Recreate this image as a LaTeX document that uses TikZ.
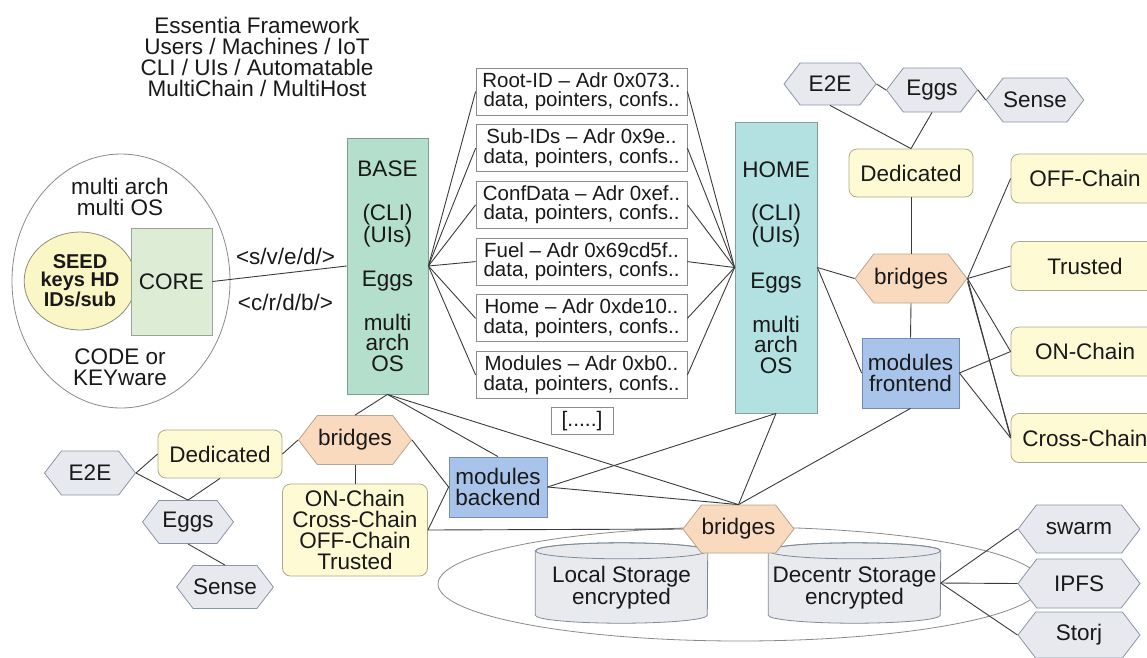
\documentclass[tikz,border=0pt]{standalone}
\usepackage{fontspec}
\setmainfont{Liberation Sans}
\usetikzlibrary{shapes.geometric,shapes.symbols}
\definecolor{baseF}{HTML}{B5DFCD}\definecolor{baseB}{HTML}{7E9E92}
\definecolor{homeF}{HTML}{B3E1E2}\definecolor{homeB}{HTML}{7E9EA0}
\definecolor{coreF}{HTML}{DDEDD5}\definecolor{coreB}{HTML}{93A88C}
\definecolor{seedF}{HTML}{FBF6C6}\definecolor{seedB}{HTML}{8C8C80}
\definecolor{yF}{HTML}{FEFAD3}\definecolor{yB}{HTML}{A9A98E}
\definecolor{hexF}{HTML}{E7E9EE}\definecolor{hexB}{HTML}{8995A8}
\definecolor{peachF}{HTML}{FADABF}\definecolor{peachB}{HTML}{B7A58E}
\definecolor{blueF}{HTML}{A9C4EA}\definecolor{blueB}{HTML}{6F8DB8}
\definecolor{cylF}{HTML}{E8EAEE}\definecolor{cylB}{HTML}{7F8B9B}
\definecolor{dataB}{HTML}{8C8C8C}\definecolor{lineC}{HTML}{3A3A3A}
\definecolor{circB}{HTML}{8A8A8A}
\begin{document}
\begin{tikzpicture}[x=1pt,y=-1pt,
  every node/.style={font=\fontsize{22.5}{20.5}\selectfont, align=center, inner sep=0pt, text=black!90},
  conn/.style={draw=lineC, line width=0.9pt},
  tealbox/.style={draw=baseB, fill=baseF, line width=0.8pt, minimum width=81pt},
  homebox/.style={draw=homeB, fill=homeF, line width=0.8pt, minimum width=82pt},
  databox/.style={draw=dataB, fill=white, line width=0.8pt, minimum width=211pt, minimum height=47pt, font=\fontsize{20.5}{19.5}\selectfont},
  hexnode/.style={shape=signal, signal to=west and east, signal pointer angle=105, draw=hexB, fill=hexF, line width=0.8pt, minimum height=44pt, minimum width=91pt},
  bridgenode/.style={shape=signal, signal to=west and east, signal pointer angle=105, draw=peachB, fill=peachF, line width=0.8pt, minimum height=49pt, minimum width=112pt},
  ybox/.style={draw=yB, fill=yF, line width=0.8pt, rounded corners=8pt, minimum width=124pt, minimum height=48pt},
  chainbox/.style={ybox, minimum width=148pt, minimum height=49pt},
  bluebox/.style={draw=blueB, fill=blueF, line width=0.8pt, minimum width=97pt},
  cylnode/.style={minimum width=172pt, minimum height=64pt}
]
\useasboundingbox (0,0) rectangle (1147,657);

% title
\node[font=\fontsize{22.5}{21}\selectfont] (title) at (257,57) {Essentia Framework\\Users / Machines / IoT\\CLI / UIs / Automatable\\MultiChain / MultiHost};

% left cluster
\node[draw=circB, fill=white, ellipse, line width=0.8pt, minimum width=218pt, minimum height=254pt] (outer) at (121,281) {};
\node (mao) at (120,197) {multi arch\\multi OS};
\node[draw=seedB, fill=seedF, ellipse, line width=0.8pt, minimum width=101pt, minimum height=98pt, font=\fontsize{20}{18}\selectfont\bfseries] (seed) at (80,281) {SEED\\keys HD\\IDs/sub};
\node[draw=coreB, fill=coreF, line width=0.8pt, minimum width=81pt, minimum height=107pt] (core) at (171.5,281.5) {CORE};
\node (code) at (120,367) {CODE or\\KEYware};

% BASE and HOME
\node[tealbox, minimum height=256pt] (base) at (387.5,266) {BASE\\[24pt](CLI)\\(UIs)\\[23pt]Eggs\\[22pt]multi\\arch\\OS};
\node[homebox, minimum height=291pt] (home) at (776,267.5) {HOME\\[23pt](CLI)\\(UIs)\\[25pt]Eggs\\[22pt]multi\\arch\\OS};

% data boxes
\node[databox] (d1) at (581.5,91.5) {Root-ID – Adr 0x073..\\data, pointers, confs..};
\node[databox] (d2) at (581.5,148.2) {Sub-IDs – Adr 0x9e..\\data, pointers, confs..};
\node[databox] (d3) at (581.5,204.9) {ConfData – Adr 0xef..\\data, pointers, confs..};
\node[databox] (d4) at (581.5,261.6) {Fuel – Adr 0x69cd5f..\\data, pointers, confs..};
\node[databox] (d5) at (581.5,318.3) {Home – Adr 0xde10..\\data, pointers, confs..};
\node[databox] (d6) at (581.5,375) {Modules – Adr 0xb0..\\data, pointers, confs..};
\node[draw=dataB, fill=white, line width=0.8pt, minimum width=62pt, minimum height=27pt, font=\fontsize{21}{20}\selectfont] (more) at (582,421) {[.....]};

% top right
\node[hexnode, minimum width=92pt, minimum height=42pt] (te2e) at (830,84) {E2E};
\node[hexnode] (teggs) at (932,90) {Eggs};
\node[hexnode, minimum width=90pt] (tsense) at (1035,100) {Sense};
\node[ybox] (tded) at (911,173) {Dedicated};
\node[bridgenode] (rbr) at (911,278.5) {bridges};
\node[bluebox, minimum height=70pt] (mf) at (910.5,373) {modules\\frontend};
\node[chainbox] (off) at (1085,178.5) {OFF-Chain};
\node[chainbox] (trusted) at (1085,266) {Trusted};
\node[chainbox] (on) at (1085,351.5) {ON-Chain};
\node[chainbox] (cross) at (1085,438) {Cross-Chain};

% bottom left
\node[hexnode] (be2e) at (90,473) {E2E};
\node[ybox] (bded) at (220,454) {Dedicated};
\node[bridgenode, minimum width=113pt] (lbr) at (355,440) {bridges};
\node[hexnode, minimum height=43pt] (beggs) at (188,522) {Eggs};
\node[hexnode, minimum height=43pt] (bsense) at (225,587) {Sense};
\node[ybox, minimum width=145pt, minimum height=92pt, font=\fontsize{22.5}{21}\selectfont] (chains) at (355,530) {ON-Chain\\Cross-Chain\\OFF-Chain\\Trusted};
\node[bluebox, minimum width=98pt, minimum height=60pt] (mb) at (498,487) {modules\\backend};

% storage
\node[draw=circB, fill=white, ellipse, line width=0.8pt, minimum width=604pt, minimum height=114pt] (store) at (740,584) {};
\node[cylnode] (loc) at (621.5,583) {};
\node[cylnode] (dec) at (854.5,583) {};
\foreach \c in {loc,dec}{
  \path[fill=cylF, draw=cylB, line width=0.8pt] (\c.north west) -- (\c.south west)
     arc[start angle=180, end angle=360, x radius=86pt, y radius=8pt]
     -- (\c.north east) arc[start angle=0, end angle=180, x radius=86pt, y radius=8pt] -- cycle;
  \draw[cylB, line width=0.8pt] (\c.north) ellipse[x radius=86pt, y radius=8pt];
}
\node (loct) at (621.5,588) {Local Storage\\encrypted};
\node (dect) at (854.5,588) {Decentr Storage\\encrypted};
\node[bridgenode, minimum width=111pt, minimum height=48pt] (bbr) at (738.5,529) {bridges};
\node[hexnode, minimum width=122pt, minimum height=48pt] (swarm) at (1079,529) {swarm};
\node[hexnode, minimum width=122pt, minimum height=49pt] (ipfs) at (1079,583.5) {IPFS};
\node[hexnode, minimum width=122pt, minimum height=46pt] (storj) at (1079,635) {Storj};

% connectors
\draw[conn] (core.east) -- (base.west)
  node[midway, xshift=6pt, yshift=17pt] (lab1) {<s/v/e/d/>}
  node[midway, xshift=6pt, yshift=-29pt] (lab2) {<c/r/d/b/>};
\foreach \d in {d1,d2,d3,d4,d5,d6}{
  \draw[conn] (base.east) -- (\d.west);
  \draw[conn] (\d.east) -- (home.west);
}
\draw[conn] (te2e.east) -- (teggs.west);
\draw[conn] (teggs.east) -- (tsense.west);
\draw[conn] (te2e.south) -- (tded.north);
\draw[conn] (teggs.south) -- (tded.north);
\draw[conn] (tded.south) -- (rbr.north);
\draw[conn] (rbr.south) -- (mf.north);
\draw[conn] (home.east) -- (rbr.west);
\draw[conn] (home.east) -- (mf.west);
\draw[conn] (rbr.east) -- (off.west);
\draw[conn] (rbr.east) -- (trusted.west);
\draw[conn] (rbr.east) -- (on.west);
\draw[conn] (rbr.east) -- (cross.west);
\draw[conn] ([yshift=-3pt]rbr.east) -- ([yshift=2pt]cross.west);
\draw[conn] (mf.east) -- (on.west);
\draw[conn] (mf.east) -- (cross.west);
\draw[conn] (home.south) -- (mb.east);
\draw[conn] (home.south) -- (bbr.north);
\draw[conn] (mf.south) -- (bbr.north);
\draw[conn] (base.south) -- (lbr.north);
\draw[conn] (base.south) -- (mb.north);
\draw[conn] (base.south) -- (bbr.north);
\draw[conn] (bded.east) -- (lbr.west);
\draw[conn] (lbr.south) -- (chains.north);
\draw[conn] (lbr.east) -- (mb.west);
\draw[conn] (chains.east) -- (mb.west);
\draw[conn] (chains.east) -- (bbr.west);
\draw[conn] (mb.east) -- (bbr.north);
\draw[conn] (be2e.east) -- (bded.west);
\draw[conn] (be2e.east) -- (beggs.north);
\draw[conn] (bded.south) -- (beggs.north);
\draw[conn] (beggs.south) -- (bsense.north);
\draw[conn] (dec.east) -- (swarm.west);
\draw[conn] (dec.east) -- (ipfs.west);
\draw[conn] (dec.east) -- (storj.west);
\end{tikzpicture}
\end{document}
